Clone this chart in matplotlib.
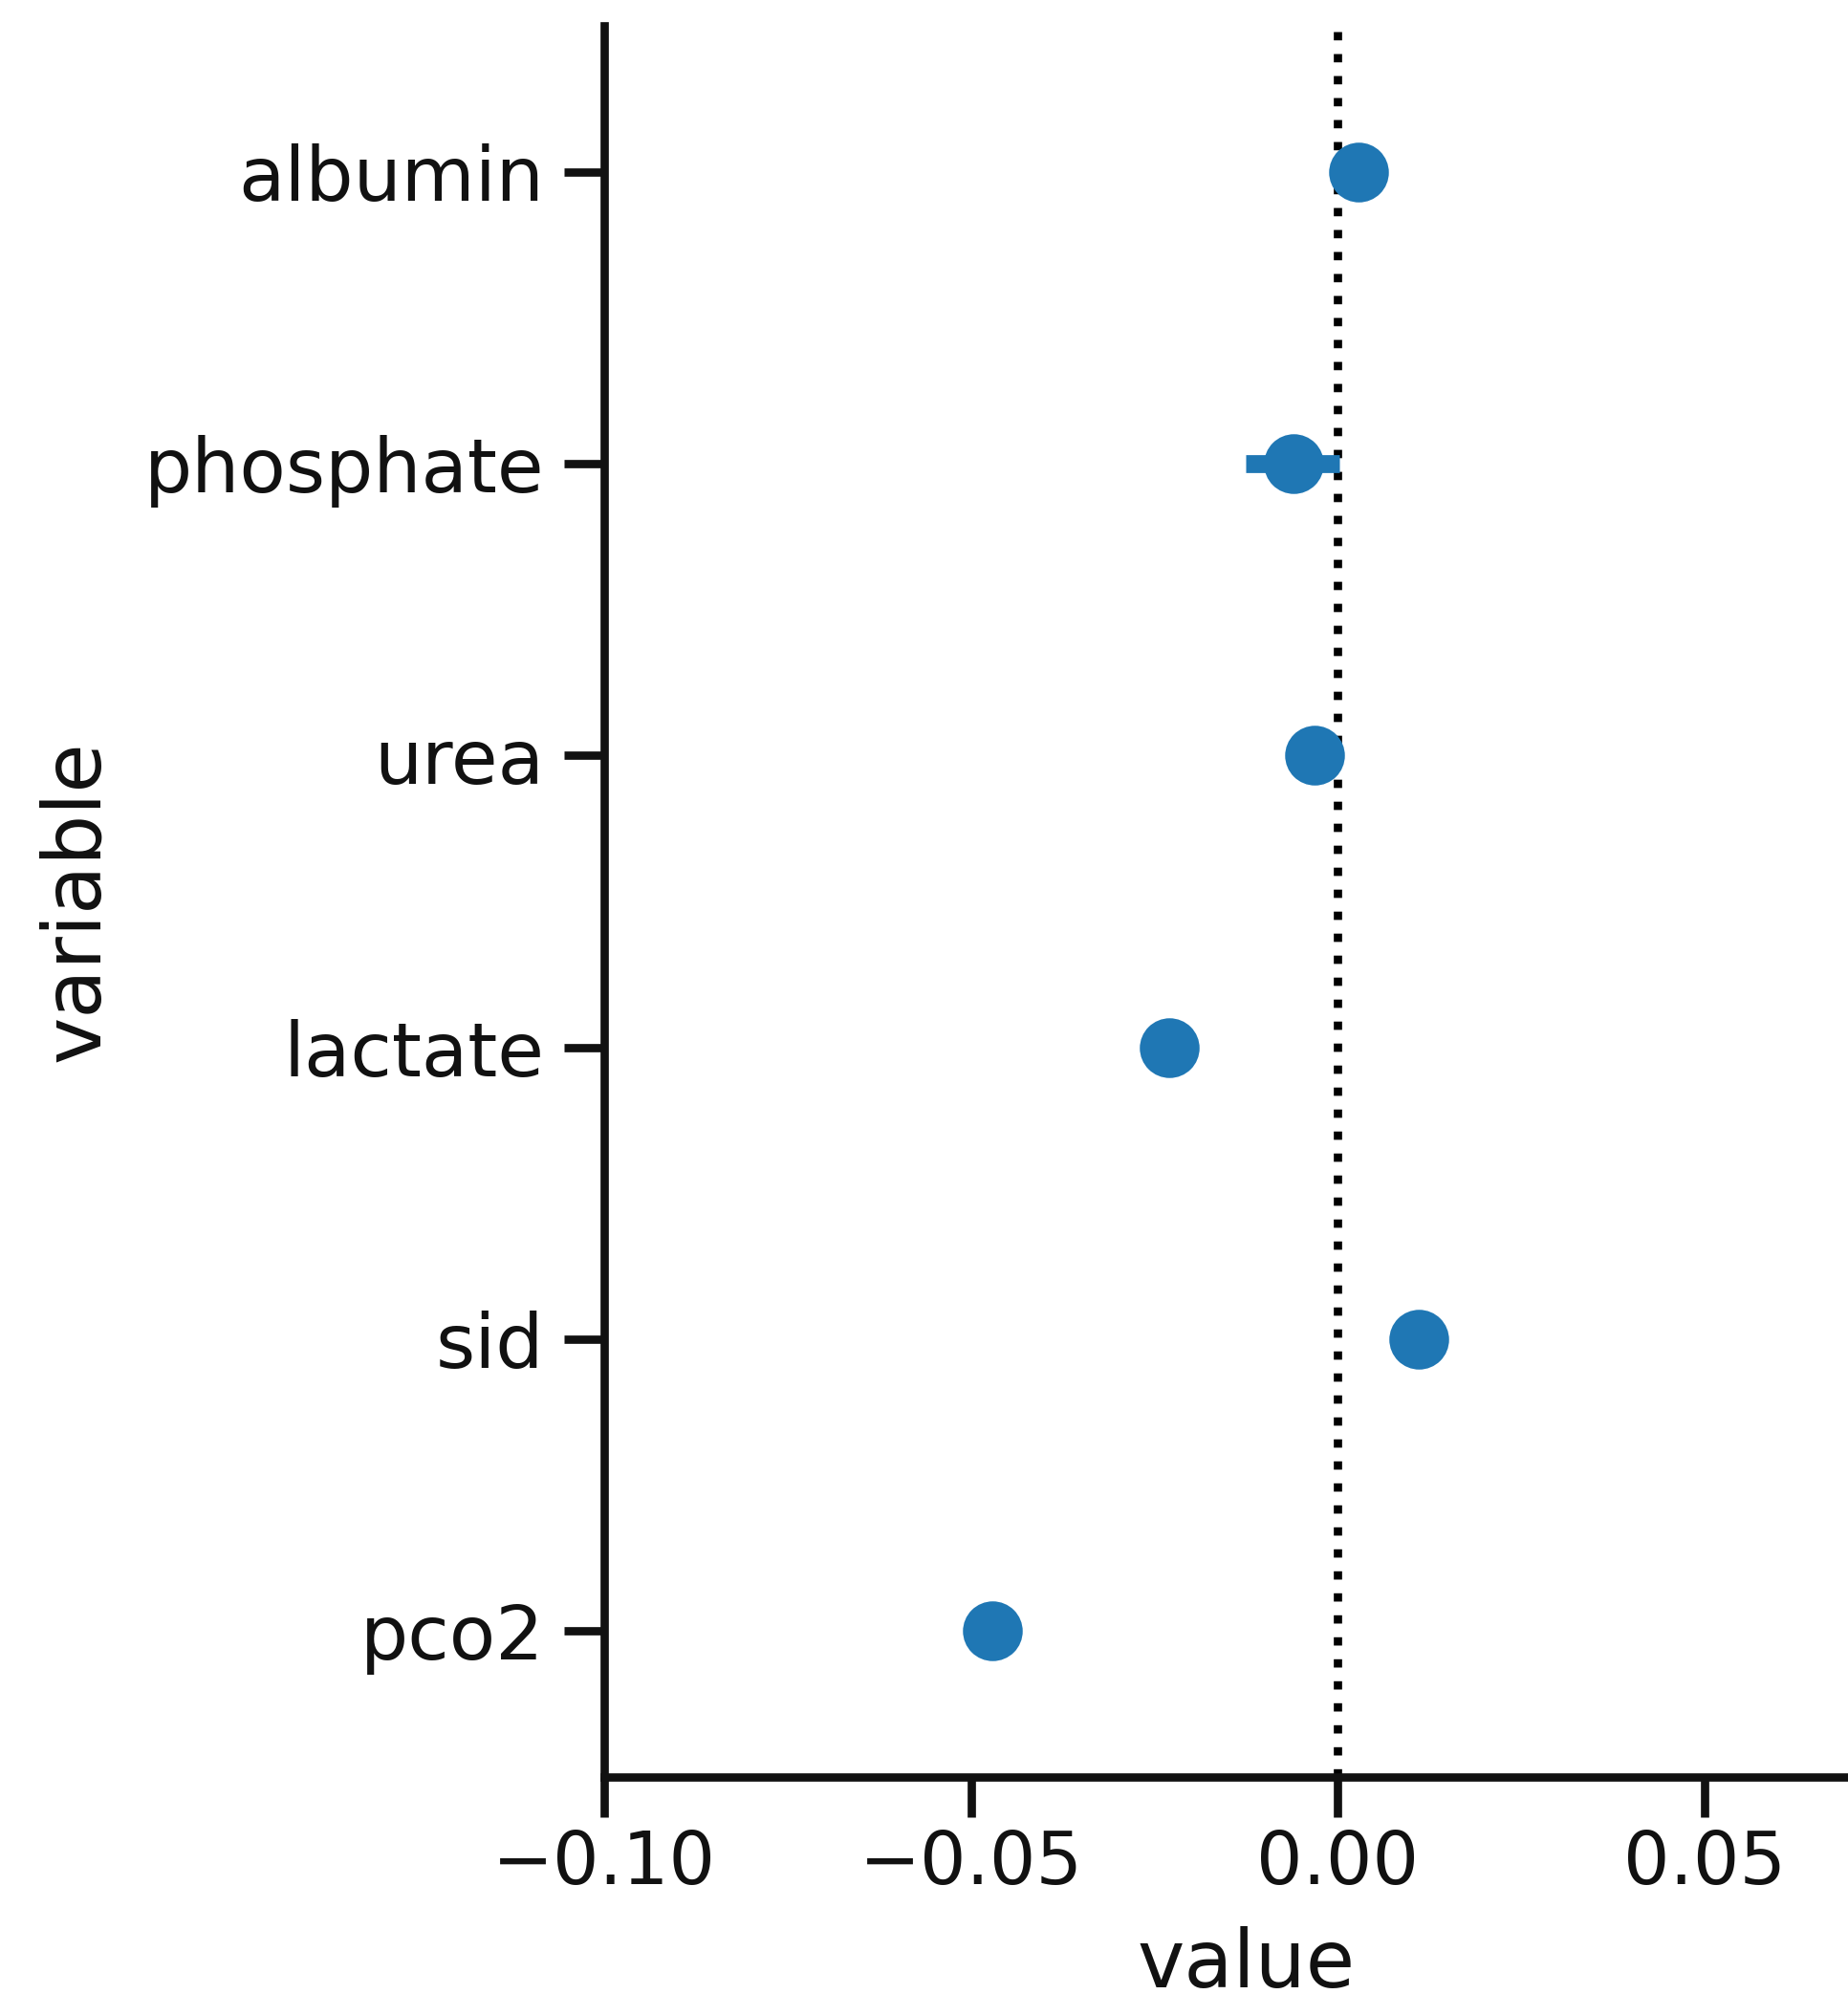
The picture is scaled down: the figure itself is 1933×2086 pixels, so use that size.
import numpy as np
import matplotlib.pyplot as plt
import seaborn as sns

# coefficient estimates per variable with their confidence interval
variables = ['albumin', 'phosphate', 'urea', 'lactate', 'sid', 'pco2']
estimate = [0.0028, -0.0060, -0.0031, -0.0230, 0.0111, -0.0471]
ci_low = [0.0018, -0.0125, -0.0040, -0.0238, 0.0103, -0.0479]
ci_high = [0.0038, 0.0002, -0.0022, -0.0222, 0.0119, -0.0463]

sns.set_theme(style='ticks', context='poster')
plt.rcParams['font.family'] = ['DejaVu Sans']
for key in ['text.color', 'axes.labelcolor', 'xtick.color', 'ytick.color', 'axes.edgecolor']:
    plt.rcParams[key] = '#111111'

fig = plt.figure(figsize=(1933 / 250, 2086 / 250), dpi=250)
# the axes run a little past the right edge of the figure
ax = fig.add_axes([0.3270, 0.1088, 0.6944, 0.8782])

est = np.array(estimate)
err = np.vstack([est - np.array(ci_low), np.array(ci_high) - est])
ypos = np.arange(len(variables))

ax.axvline(0, color='black', linestyle=':', linewidth=2.5, zorder=1)
ax.errorbar(est, ypos, xerr=err, fmt='o', color='#1f77b4', ecolor='#1f77b4',
            elinewidth=5.4, markersize=18, markeredgewidth=0, capsize=0, zorder=3)

ax.set_yticks(ypos)
ax.set_yticklabels(variables, fontsize=22.8)
ax.tick_params(axis='y', pad=6)
ax.set_ylim(len(variables) - 0.5, -0.5)
ax.set_xlim(-0.1, 0.075)
ax.set_xticks([-0.10, -0.05, 0.00, 0.05])
ax.set_xlabel('value', labelpad=8)
ax.set_ylabel('variable', labelpad=9)
sns.despine(ax=ax)

fig.savefig('out.png', dpi=250)
